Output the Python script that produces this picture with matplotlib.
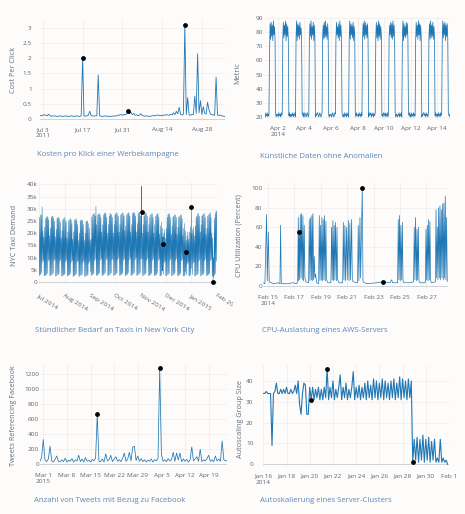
import datetime as dt
import numpy as np
import matplotlib
matplotlib.use('Agg')
import matplotlib.pyplot as plt
import matplotlib.dates as mdates
from matplotlib.transforms import Bbox, TransformedBbox

plt.rcParams['font.family'] = ['Open Sans', 'DejaVu Sans']

# --- 1) Cost per click (every 12 h from Jul 2 2011) ---
cpc_start = dt.datetime(2011, 7, 2)
cpc_values = [
    0.10, 0.12, 0.11, 0.14, 0.12, 0.10, 0.15, 0.11, 0.09, 0.10,
    0.09, 0.10, 0.08, 0.09, 0.10, 0.09, 0.08, 0.09, 0.10, 0.09,
    0.08, 0.09, 0.10, 0.09, 0.08, 0.09, 0.10, 0.09, 0.08, 0.11,
    2.00, 0.10, 0.09, 0.10, 0.12, 0.25, 0.11, 0.10, 0.09, 0.10,
    0.10, 1.45, 0.10, 0.09, 0.08, 0.09, 0.10, 0.09, 0.08, 0.09,
    0.08, 0.09, 0.10, 0.09, 0.10, 0.12, 0.13, 0.14, 0.12, 0.15,
    0.13, 0.16, 0.25, 0.17, 0.22, 0.14, 0.18, 0.12, 0.13, 0.11,
    0.12, 0.17, 0.11, 0.10, 0.09, 0.10, 0.09, 0.08, 0.09, 0.10,
    0.11, 0.10, 0.12, 0.13, 0.11, 0.12, 0.10, 0.13, 0.12, 0.14,
    0.13, 0.12, 0.15, 0.13, 0.20, 0.14, 0.25, 0.17, 0.38, 0.15,
    0.13, 0.16, 3.10, 0.14, 0.70, 0.13, 0.12, 0.15, 0.14, 0.75,
    0.18, 2.15, 0.20, 0.60, 0.15, 0.40, 0.18, 0.16, 0.55, 0.30,
    0.16, 0.14, 0.13, 0.12, 1.38, 0.12, 0.11, 0.13, 0.10, 0.09, 0.08,
]
cpc_anom_days = [15, 31, 51]
cpc_anom_vals = [2.00, 0.25, 3.10]
cpc_ticks = [dt.datetime(2011, 7, 3), dt.datetime(2011, 7, 17), dt.datetime(2011, 7, 31),
             dt.datetime(2011, 8, 14), dt.datetime(2011, 8, 28)]
cpc_ticklabels = ['Jul 3\n2011', 'Jul 17', 'Jul 31', 'Aug 14', 'Aug 28']

# --- 2) artificial daily signal (hourly, one row per day from Apr 1 2014) ---
art_start = dt.datetime(2014, 4, 1)
art_rows = [
    [21, 23, 20, 22, 21, 23, 20, 22, 21, 62, 86, 75, 87, 77, 85, 74, 88, 78, 84, 76, 23, 20, 22, 21],
    [22, 20, 23, 21, 22, 20, 23, 21, 22, 75, 87, 76, 85, 78, 88, 74, 86, 77, 84, 75, 21, 23, 20, 22],
    [20, 22, 21, 23, 20, 22, 21, 23, 20, 76, 88, 74, 86, 77, 85, 75, 87, 78, 83, 76, 22, 21, 23, 20],
    [21, 23, 22, 20, 21, 23, 22, 20, 21, 74, 86, 77, 88, 75, 84, 78, 87, 74, 85, 77, 20, 22, 21, 23],
    [23, 21, 20, 22, 23, 21, 20, 22, 23, 77, 85, 75, 87, 76, 88, 77, 84, 75, 86, 78, 21, 20, 22, 21],
    [22, 20, 21, 23, 22, 20, 21, 23, 22, 75, 87, 78, 84, 76, 86, 74, 88, 77, 85, 76, 23, 21, 20, 22],
    [20, 23, 21, 22, 20, 23, 21, 22, 20, 76, 88, 75, 86, 78, 85, 76, 87, 74, 84, 77, 22, 20, 23, 21],
    [21, 22, 20, 23, 21, 22, 20, 23, 21, 74, 86, 77, 88, 75, 87, 78, 85, 76, 86, 75, 20, 23, 21, 22],
    [23, 20, 22, 21, 23, 20, 22, 21, 23, 77, 87, 76, 85, 74, 88, 77, 86, 75, 84, 78, 21, 22, 20, 23],
    [22, 21, 23, 20, 22, 21, 23, 20, 22, 75, 85, 78, 87, 76, 86, 75, 88, 77, 85, 76, 23, 20, 22, 21],
    [20, 22, 21, 23, 20, 22, 21, 23, 20, 76, 88, 74, 86, 77, 84, 76, 87, 78, 86, 75, 22, 21, 23, 20],
    [21, 23, 20, 22, 21, 23, 20, 22, 21, 74, 87, 77, 85, 75, 88, 78, 86, 74, 85, 77, 20, 22, 21, 23],
    [23, 21, 22, 20, 23, 21, 22, 20, 23, 77, 86, 75, 88, 76, 85, 77, 87, 75, 84, 76, 21, 23, 20, 22],
    [22, 20, 23, 21, 22, 20, 23, 21, 22, 75, 88, 76, 86, 78, 87, 74, 85, 77, 86, 75, 23, 21, 22, 20],
]
art_ticks = [dt.datetime(2014, 4, d) for d in (2, 4, 6, 8, 10, 12, 14)]
art_ticklabels = ['Apr 2\n2014', 'Apr 4', 'Apr 6', 'Apr 8', 'Apr 10', 'Apr 12', 'Apr 14']

# --- 3) NYC taxi demand (thousands), one row per week, Tue..Mon, from Jul 1 2014 ---
taxi_start = dt.datetime(2014, 7, 1)
taxi_peak_k = [
    [26.5, 27.5, 27.5, 30.8, 21.0, 18.5, 22.5],
    [26.0, 26.5, 27.0, 26.5, 25.5, 19.0, 22.0],
    [26.5, 27.0, 27.0, 26.0, 25.0, 18.5, 21.5],
    [26.0, 26.5, 26.5, 26.0, 24.5, 18.0, 21.0],
    [25.5, 26.0, 26.5, 25.5, 24.5, 18.0, 20.5],
    [25.0, 25.5, 26.0, 25.5, 24.0, 17.5, 20.5],
    [25.5, 25.5, 26.0, 25.0, 23.5, 17.0, 20.0],
    [25.0, 25.5, 25.5, 25.0, 23.5, 17.0, 20.0],
    [24.5, 25.0, 25.0, 24.0, 22.0, 17.0, 17.5],
    [26.5, 27.5, 28.0, 28.0, 27.0, 31.0, 23.5],
    [27.5, 28.0, 28.0, 27.5, 26.5, 20.5, 23.5],
    [27.5, 28.0, 28.5, 28.0, 26.5, 20.0, 23.5],
    [27.0, 28.0, 28.0, 27.5, 26.5, 20.0, 23.5],
    [27.5, 28.0, 28.5, 28.0, 27.0, 20.5, 23.5],
    [27.5, 28.0, 28.5, 28.0, 27.0, 21.0, 23.0],
    [27.5, 28.0, 28.5, 28.0, 27.0, 20.5, 23.5],
    [28.0, 28.5, 28.5, 28.0, 27.0, 20.5, 24.0],
    [28.0, 28.5, 28.5, 27.0, 27.0, 20.0, 23.5],
    [27.0, 28.0, 28.5, 28.0, 27.0, 20.5, 23.5],
    [26.5, 27.5, 28.0, 28.0, 26.5, 20.0, 23.5],
    [27.0, 27.5, 28.0, 28.0, 26.5, 19.5, 23.0],
    [24.5, 22.0, 18.5, 20.0, 21.5, 18.0, 22.0],
    [26.5, 27.5, 28.0, 28.0, 26.5, 19.5, 23.0],
    [26.5, 27.0, 27.5, 27.5, 26.5, 19.5, 22.5],
    [26.5, 27.0, 27.5, 27.5, 26.0, 19.0, 22.0],
    [24.0, 21.0, 17.0, 19.0, 20.5, 17.5, 20.5],
    [22.5, 24.5, 20.0, 21.5, 22.5, 19.0, 23.0],
    [26.5, 27.0, 28.0, 28.0, 27.0, 20.5, 23.5],
    [27.0, 27.5, 28.0, 28.0, 26.5, 19.5, 22.0],
    [27.0, 27.5, 28.0, 28.5, 26.5, 20.0, 18.0],
    [10.0, 26.0, 28.0, 29.0, 29.0],
]
taxi_min_k = [
    [2.6, 2.9, 3.1, 3.8, 8.0, 8.8, 2.5],
    [2.5, 2.8, 3.0, 3.5, 8.4, 9.1, 2.4],
    [2.6, 2.9, 3.1, 3.6, 8.6, 9.3, 2.3],
    [2.5, 2.8, 3.0, 3.4, 8.3, 9.0, 2.4],
    [2.4, 2.7, 2.9, 3.3, 8.2, 8.9, 2.3],
    [2.5, 2.8, 3.0, 3.5, 8.1, 8.8, 2.2],
    [2.4, 2.6, 2.9, 3.3, 8.0, 8.6, 2.3],
    [2.3, 2.6, 2.8, 3.2, 7.9, 8.5, 2.2],
    [2.3, 2.5, 2.7, 3.1, 7.6, 8.3, 4.0],
    [2.6, 2.9, 3.1, 3.6, 8.6, 9.4, 2.5],
    [2.7, 3.0, 3.2, 3.7, 8.8, 9.6, 2.6],
    [2.7, 3.0, 3.2, 3.8, 8.9, 9.7, 2.5],
    [2.6, 2.9, 3.2, 3.7, 8.8, 9.5, 2.6],
    [2.7, 3.0, 3.3, 3.8, 9.0, 9.8, 2.6],
    [2.7, 3.0, 3.2, 3.7, 8.9, 9.6, 2.5],
    [2.6, 3.0, 3.2, 3.8, 9.0, 9.7, 2.6],
    [2.7, 3.1, 3.3, 3.8, 9.1, 9.9, 2.6],
    [2.8, 3.0, 3.2, 3.9, 9.4, 9.6, 2.6],
    [2.6, 2.9, 3.2, 3.7, 8.9, 9.6, 2.5],
    [2.6, 2.9, 3.1, 3.7, 8.8, 9.5, 2.5],
    [2.6, 2.9, 3.1, 3.6, 8.7, 9.4, 2.4],
    [2.5, 2.8, 4.5, 3.2, 7.8, 8.5, 2.4],
    [2.6, 2.9, 3.1, 3.6, 8.7, 9.4, 2.5],
    [2.6, 2.9, 3.1, 3.7, 8.8, 9.5, 2.5],
    [2.6, 2.8, 3.1, 3.6, 8.6, 9.2, 2.4],
    [2.4, 2.7, 4.0, 3.0, 7.4, 8.0, 2.3],
    [2.5, 2.9, 5.5, 3.0, 7.6, 8.2, 2.4],
    [2.5, 2.8, 3.0, 3.5, 8.5, 9.2, 2.4],
    [2.6, 2.9, 3.1, 3.6, 8.7, 9.4, 2.5],
    [2.6, 2.9, 3.1, 3.6, 8.6, 9.3, 2.4],
    [0.8, 2.0, 2.8, 3.4, 8.4],
]
# extra half-hour values (day offset, thousands) and the marked anomalies
taxi_extra_days = [124.04]
taxi_extra_k = [39.2]
taxi_anom_days = [124.06, 149.5, 177.5, 184.04, 210.25]
taxi_anom_k = [28.8, 15.6, 12.2, 30.6, 0.0]
taxi_ticks = [dt.datetime(2014, m, 1) for m in range(7, 13)] + [dt.datetime(2015, 1, 1), dt.datetime(2015, 2, 1)]
taxi_ticklabels = ['Jul 2014', 'Aug 2014', 'Sep 2014', 'Oct 2014', 'Nov 2014', 'Dec 2014', 'Jan 2015', 'Feb 2015']
taxi_yticks = [0, 5, 10, 15, 20, 25, 30, 35, 40]
taxi_yticklabels = ['0', '5k', '10k', '15k', '20k', '25k', '30k', '35k', '40k']

# --- 4) CPU utilisation (day of February 2014, percent) ---
cpu_days = [
    14.65, 14.77, 14.90, 14.95, 15.03, 15.10, 15.40, 15.78, 15.91, 15.96, 16.01, 16.41, 16.92, 17.17,
    17.25, 17.30, 17.32, 17.37, 17.40, 17.45, 17.50, 17.55, 17.60, 17.65, 17.70, 17.75, 17.80, 17.88,
    18.08, 18.13, 18.18, 18.23, 18.28, 18.33, 18.36, 18.41, 18.46, 18.51, 18.56, 18.61, 18.69,
    18.84, 18.89, 18.94, 18.99, 19.04, 19.09, 19.14, 19.19, 19.24, 19.29, 19.34, 19.39, 19.44, 19.54,
    19.77, 19.82, 19.87, 19.92, 19.97, 20.02, 20.07, 20.12, 20.18, 20.23, 20.28, 20.38,
    20.66, 20.71, 20.76, 20.83, 20.88, 20.96, 21.01, 21.09, 21.14, 21.21, 21.26, 21.34, 21.39, 21.46,
    21.79, 21.84, 21.89, 21.97, 22.02, 22.145, 22.20, 22.47, 23.23, 23.736, 24.24, 24.37, 24.44,
    24.82, 24.87, 24.92, 24.97, 25.02, 25.07, 25.13, 25.18, 25.23, 25.30, 25.76,
    26.03, 26.08, 26.13, 26.18, 26.24, 26.29, 26.34, 26.39, 26.44, 26.51,
    26.92, 26.97, 27.02, 27.07, 27.12, 27.17, 27.22, 27.27, 27.32, 27.40,
    27.68, 27.73, 27.78, 27.83, 27.88, 27.93, 27.98, 28.03, 28.08, 28.13, 28.18, 28.23, 28.28,
    28.33, 28.38, 28.43, 28.48, 28.53, 28.58, 28.66,
]
cpu_vals = [
    3, 2, 73, 5, 55, 4, 2, 3, 2, 62, 2, 2, 3, 2,
    4, 70, 5, 55, 6, 73, 8, 74, 6, 72, 5, 62, 8, 4,
    3, 68, 5, 70, 6, 72, 5, 74, 6, 30, 8, 12, 3,
    2, 72, 5, 62, 6, 70, 5, 68, 6, 72, 5, 66, 6, 3,
    3, 60, 6, 67, 5, 62, 6, 65, 5, 60, 6, 3,
    3, 65, 6, 62, 5, 60, 6, 67, 5, 64, 6, 68, 6, 4,
    3, 62, 5, 70, 8, 100, 4, 2, 3, 4, 3, 6, 3,
    3, 68, 6, 72, 5, 62, 6, 65, 5, 3, 3,
    4, 60, 6, 70, 5, 58, 6, 60, 5, 3,
    3, 58, 6, 62, 5, 68, 6, 66, 5, 3,
    4, 78, 8, 60, 6, 80, 8, 82, 6, 78, 8, 84, 6,
    85, 8, 92, 6, 70, 5, 4,
]
cpu_anom_days = [17.37, 22.145, 23.736]
cpu_anom_vals = [55, 100, 4]
cpu_ticks = [dt.datetime(2014, 2, d) for d in (15, 17, 19, 21, 23, 25, 27)]
cpu_ticklabels = ['Feb 15\n2014', 'Feb 17', 'Feb 19', 'Feb 21', 'Feb 23', 'Feb 25', 'Feb 27']

# --- 5) tweets referencing Facebook (every 12 h from Feb 28 2015) ---
tw_start = dt.datetime(2015, 2, 28)
tw_values = [
    40, 90, 330, 60, 35, 70, 240, 45, 30, 65,
    110, 40, 30, 60, 35, 80, 30, 55, 40, 75,
    30, 60, 45, 120, 35, 70, 30, 90, 40, 55,
    30, 65, 45, 80, 667, 40, 35, 70, 30, 140,
    45, 60, 120, 35, 70, 100, 40, 60, 35, 75,
    150, 40, 65, 160, 45, 230, 240, 50, 110, 40,
    75, 35, 60, 30, 55, 40, 70, 30, 60, 45,
    80, 1280, 130, 40, 60, 35, 75, 45, 60, 160,
    40, 150, 55, 150, 35, 70, 40, 65, 30, 60,
    230, 45, 70, 100, 40, 200, 35, 60, 45, 75,
    120, 40, 60, 35, 110, 45, 70, 40, 310, 60,
    45, 50,
]
tw_anom_days = [17.0, 35.5]
tw_anom_vals = [667, 1280]
tw_ticks = [dt.datetime(2015, 3, 1), dt.datetime(2015, 3, 8), dt.datetime(2015, 3, 15), dt.datetime(2015, 3, 22),
            dt.datetime(2015, 3, 29), dt.datetime(2015, 4, 5), dt.datetime(2015, 4, 12), dt.datetime(2015, 4, 19)]
tw_ticklabels = ['Mar 1\n2015', 'Mar 8', 'Mar 15', 'Mar 22', 'Mar 29', 'Apr 5', 'Apr 12', 'Apr 19']

# --- 6) autoscaling group size (every 3 h from Jan 16 2014) ---
asg_start = dt.datetime(2014, 1, 16)
asg_values = [
    34, 34, 35, 34, 34, 34, 9, 34, 35, 39,
    34, 34, 36, 34, 36, 34, 37, 34, 34, 36,
    34, 35, 38, 34, 40, 29, 24, 34, 39, 38,
    24, 24, 37, 31, 37, 31, 36, 32, 37, 31,
    36, 31, 37, 32, 46, 31, 37, 32, 40, 31,
    36, 32, 37, 43, 31, 37, 32, 39, 31, 36,
    32, 37, 44.5, 31, 37, 32, 38, 31, 37, 32,
    39, 31, 40, 32, 38, 31, 41, 32, 40, 31,
    39, 32, 41, 31, 40, 32, 39, 31, 40, 32,
    41, 31, 39, 32, 42, 31, 41, 32, 40, 31,
    41, 32, 40, 1, 12, 2, 13, 1, 12, 2,
    14, 1, 12, 2, 13, 1, 11, 2, 12, 1,
    3, 1, 12, 1, 3, 1, 2, 0,
]
asg_anom_days = [4.125, 5.5, 12.875]
asg_anom_vals = [31, 46, 1]
asg_ticks = [dt.datetime(2014, 1, d) for d in (16, 18, 20, 22, 24, 26, 28, 30)] + [dt.datetime(2014, 2, 1)]
asg_ticklabels = ['Jan 16\n2014', 'Jan 18', 'Jan 20', 'Jan 22', 'Jan 24', 'Jan 26', 'Jan 28', 'Jan 30', 'Feb 1']

captions = ['Kosten pro Klick einer Werbekampagne', 'Künstliche Daten ohne Anomalien',
            'Stündlicher Bedarf an Taxis in New York City', 'CPU-Auslastung eines AWS-Servers',
            'Anzahl von Tweets mit Bezug zu Facebook', 'Autoskalierung eines Server-Clusters']
ylabels = ['Cost Per Click', 'Metric', 'NYC Taxi Demand', 'CPU Utilization (Percent)',
           'Tweets Referencing Facebook', 'Autoscaling Group Size']

# ------------------------------------------------------------------
W, H = 465, 514
fig = plt.figure(figsize=(W / 100, H / 100), dpi=100)
fig.patch.set_facecolor('#fefcfb')

LINE = '#1f77b4'
TICK = '#5b6574'


def make_axes(l, t, r, b, ypad):
    ax = fig.add_axes([l / W, 1 - b / H, (r - l) / W, (b - t) / H])
    ax.set_facecolor('none')
    for s in ax.spines.values():
        s.set_visible(False)
    ax.tick_params(length=0, labelsize=4.6, colors=TICK)
    ax.tick_params(axis='x', pad=4.5)
    ax.tick_params(axis='y', pad=ypad)
    ax.grid(True, color='#f1ebeb', linewidth=0.5)
    ax.set_axisbelow(True)
    return ax


def finish(ax, ticks, labels, ylabel, lab_xy, caption, cap_xy, zero=True):
    ax.set_xticks(mdates.date2num(ticks))
    ax.set_xticklabels(labels, linespacing=1.3)
    if zero:
        ax.axhline(0, color='#c9ced6', linewidth=0.6, zorder=1)
    ax.set_ylabel(ylabel, fontsize=5.2, color='#5f6f82')
    ax.yaxis.set_label_coords(lab_xy[0] / W, 1 - lab_xy[1] / H, transform=fig.transFigure)
    fig.text(cap_xy[0] / W, 1 - cap_xy[1] / H, caption, fontsize=5.6, color='#5b87b8',
             ha='left', va='center')


def dots(ax, x, y):
    ax.scatter(x, y, s=12, color='black', zorder=5, linewidths=0)


# 1
ax1 = make_axes(40, 19, 224.6, 121, 6)
t1 = [cpc_start + dt.timedelta(hours=12 * i) for i in range(len(cpc_values))]
ax1.plot(t1, cpc_values, color=LINE, linewidth=0.6)
dots(ax1, [cpc_start + dt.timedelta(days=d) for d in cpc_anom_days], cpc_anom_vals)
ax1.set_xlim(t1[0], t1[-1])
ax1.set_ylim(-0.07, 3.3)
ax1.set_yticks([0, 0.5, 1, 1.5, 2, 2.5, 3])
ax1.set_yticklabels(['0', '0.5', '1', '1.5', '2', '2.5', '3'])
finish(ax1, cpc_ticks, cpc_ticklabels, ylabels[0], (17, 70), captions[0], (37, 155))

# 2
ax2 = make_axes(264.5, 16.6, 450, 119.8, 1)
art_vals = [v for row in art_rows for v in row]
t2 = [art_start + dt.timedelta(hours=i) for i in range(len(art_vals))]
ax2.plot(t2, art_vals, color=LINE, linewidth=0.55)
ax2.set_xlim(t2[0], t2[-1])
ax2.set_ylim(18, 91)
ax2.set_yticks(range(20, 91, 10))
finish(ax2, art_ticks, art_ticklabels, ylabels[1], (241.5, 73), captions[1], (260, 156), zero=False)

# 3
ax3 = make_axes(39, 181.9, 217, 284.4, 1)
pts = []
for w, (prow, mrow) in enumerate(zip(taxi_peak_k, taxi_min_k)):
    for d, (p, m) in enumerate(zip(prow, mrow)):
        day = 7 * w + d
        pts.append((day + 5 / 24, m))
        pts.append((day + 19 / 24, p))
pts += list(zip(taxi_extra_days, taxi_extra_k)) + list(zip(taxi_anom_days, taxi_anom_k))
pts.sort()
t3 = [taxi_start + dt.timedelta(days=d) for d, _ in pts]
ax3.plot(t3, [v for _, v in pts], color=LINE, linewidth=0.35)
dots(ax3, [taxi_start + dt.timedelta(days=d) for d in taxi_anom_days], taxi_anom_k)
ax3.set_xlim(dt.datetime(2014, 7, 1), dt.datetime(2015, 2, 1))
ax3.set_ylim(-1, 41)
ax3.set_yticks(taxi_yticks)
ax3.set_yticklabels(taxi_yticklabels)
finish(ax3, taxi_ticks, taxi_ticklabels, ylabels[2], (18, 235), captions[2], (35, 330))
ax3.tick_params(axis='x', pad=6)
for lab in ax3.get_xticklabels():
    lab.set_rotation(-32)
    lab.set_ha('left')
    lab.set_va('top')
    lab.set_rotation_mode('anchor')
    lab.set_clip_box(TransformedBbox(Bbox([[0, 0], [233 / W, 1]]), fig.transFigure))
    lab.set_clip_on(True)

# 4
ax4 = make_axes(263.3, 183.4, 448.3, 288.6, 0.5)
feb0 = dt.datetime(2014, 1, 31)
t4 = [feb0 + dt.timedelta(days=d) for d in cpu_days]
ax4.plot(t4, cpu_vals, color=LINE, linewidth=0.5)
dots(ax4, [feb0 + dt.timedelta(days=d) for d in cpu_anom_days], cpu_anom_vals)
ax4.set_xlim(t4[0], t4[-1])
ax4.set_ylim(-3, 105)
ax4.set_yticks(range(0, 101, 20))
finish(ax4, cpu_ticks, cpu_ticklabels, ylabels[3], (242.5, 236), captions[3], (262, 330))

# 5
ax5 = make_axes(39.9, 363.8, 227.2, 466.5, 0.5)
t5 = [tw_start + dt.timedelta(hours=12 * i) for i in range(len(tw_values))]
ax5.plot(t5, tw_values, color=LINE, linewidth=0.55)
dots(ax5, [tw_start + dt.timedelta(days=d) for d in tw_anom_days], tw_anom_vals)
ax5.set_xlim(t5[0], t5[-1])
ax5.set_ylim(-30, 1340)
ax5.set_yticks(range(0, 1201, 200))
finish(ax5, tw_ticks, tw_ticklabels, ylabels[4], (17, 416), captions[4], (34, 500))

# 6
ax6 = make_axes(263.3, 365.4, 449, 467.4, 7)
t6 = [asg_start + dt.timedelta(hours=3 * i) for i in range(len(asg_values))]
ax6.plot(t6, asg_values, color=LINE, linewidth=0.8)
dots(ax6, [asg_start + dt.timedelta(days=d) for d in asg_anom_days], asg_anom_vals)
ax6.set_xlim(t6[0], t6[-1] + dt.timedelta(hours=3))
ax6.set_ylim(-1.5, 47.5)
ax6.set_yticks(range(0, 41, 10))
finish(ax6, asg_ticks, asg_ticklabels, ylabels[5], (244, 419), captions[5], (260, 501))

fig.savefig('out.png', dpi=100, facecolor=fig.get_facecolor())
